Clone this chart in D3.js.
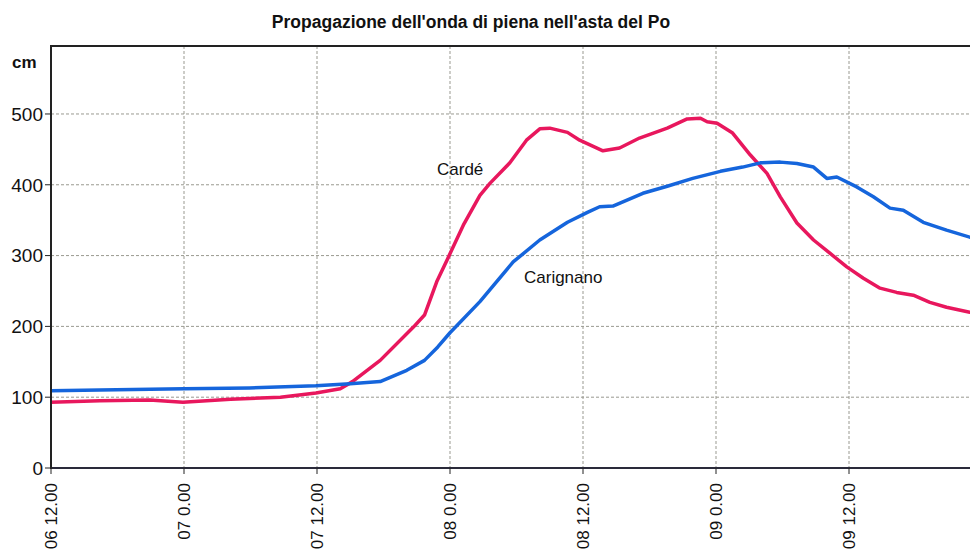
<!DOCTYPE html>
<html>
  <body style="margin:0;background:#fff">
    <style>
      svg { display: block; font-family: Arial, "Liberation Sans", sans-serif; }
    </style>
    <script src="https://d3js.org/d3.v7.min.js"></script>
    <script type="text/javascript">
      const width = 970;
      const height = 557;

      // hours since 06 12.00
      const tickHours = [0, 12, 24, 36, 48, 60, 72];
      const tickLabels = ['06 12.00', '07 0.00', '07 12.00', '08 0.00', '08 12.00', '09 0.00', '09 12.00'];
      const yTicks = [0, 100, 200, 300, 400, 500];

      const cardeHours = [0, 4.4, 8.9, 11.9, 16.2, 20.7, 23.9, 26.1, 27.2, 29.7, 32.7, 33.7, 34.8, 35.8, 37.2, 38.7, 39.6, 41.4, 42.9, 44.1, 45.0, 46.6, 47.7, 49.8, 51.3, 53.1, 55.6, 57.4, 58.6, 59.2, 60.1, 61.5, 63.1, 64.6, 65.8, 67.3, 68.8, 70.3, 71.8, 73.3, 74.8, 76.3, 77.8, 79.3, 80.8, 82.9, 84];
      const cardeValues = [93, 95, 96, 93, 97, 100, 106, 112, 122, 152, 199, 216, 263, 296, 343, 385, 402, 431, 463, 479, 480, 474, 463, 448, 452, 466, 480, 493, 494, 489, 487, 473, 442, 416, 383, 346, 322, 303, 284, 268, 254, 248, 244, 234, 227, 220, 217];

      const carignanoHours = [0, 4.4, 12, 17.9, 23.9, 27, 29.7, 32.1, 33.7, 34.9, 36.0, 38.7, 41.7, 44.1, 46.6, 48.4, 49.5, 50.7, 53.4, 55.6, 57.9, 60.4, 62.4, 64.0, 65.8, 67.3, 68.8, 70.0, 70.9, 72.7, 74.2, 75.7, 76.9, 78.7, 80.8, 82.9, 84];
      const carignanoValues = [109, 110, 112, 113, 116, 119, 122, 138, 152, 171, 191, 235, 291, 322, 347, 361, 369, 370, 388, 398, 409, 419, 425, 431, 432, 430, 425, 409, 411, 397, 383, 367, 364, 347, 336, 326, 322];

      const x = d3.scaleLinear().domain([0, 72]).range([51, 849]);
      const y = d3.scaleLinear().domain([0, 596]).range([468, 46]);

      const svg = d3.select('body')
        .append('svg')
        .attr('width', width)
        .attr('height', height);

      svg.append('text')
        .attr('x', 471)
        .attr('y', 28)
        .attr('text-anchor', 'middle')
        .attr('font-size', 17.5)
        .attr('font-weight', 'bold')
        .attr('fill', '#111')
        .text("Propagazione dell'onda di piena nell'asta del Po");

      // grid
      svg.append('g')
        .selectAll('line')
        .data(yTicks.filter((d) => d > 0))
        .enter()
        .append('line')
        .attr('x1', x(0))
        .attr('x2', width)
        .attr('y1', (d) => y(d))
        .attr('y2', (d) => y(d))
        .attr('stroke', '#999990')
        .attr('stroke-dasharray', '3,2');

      svg.append('g')
        .selectAll('line')
        .data(tickHours.filter((d) => d > 0))
        .enter()
        .append('line')
        .attr('x1', (d) => x(d))
        .attr('x2', (d) => x(d))
        .attr('y1', y(596))
        .attr('y2', y(0))
        .attr('stroke', '#999990')
        .attr('stroke-dasharray', '3,2');

      // lines
      svg.append('clipPath')
        .attr('id', 'plot')
        .append('rect')
        .attr('x', x(0))
        .attr('y', y(596))
        .attr('width', width - x(0))
        .attr('height', y(0) - y(596));

      const line = d3.line()
        .x((d) => x(d[0]))
        .y((d) => y(d[1]));

      const series = [
        { hours: cardeHours, values: cardeValues, color: '#e8175d' },
        { hours: carignanoHours, values: carignanoValues, color: '#1565dc' },
      ];

      svg.append('g')
        .attr('clip-path', 'url(#plot)')
        .selectAll('path')
        .data(series)
        .enter()
        .append('path')
        .attr('d', (s) => line(s.hours.map((h, i) => [h, s.values[i]])))
        .attr('fill', 'none')
        .attr('stroke', (s) => s.color)
        .attr('stroke-width', 3.5)
        .attr('stroke-linejoin', 'round');

      // axes frame
      svg.append('line')
        .attr('x1', x(0)).attr('x2', width)
        .attr('y1', y(596)).attr('y2', y(596))
        .attr('stroke', '#222').attr('stroke-width', 2);
      svg.append('line')
        .attr('x1', x(0)).attr('x2', width)
        .attr('y1', y(0)).attr('y2', y(0))
        .attr('stroke', '#2a2a3a').attr('stroke-width', 2);
      svg.append('line')
        .attr('x1', x(0)).attr('x2', x(0))
        .attr('y1', y(596) - 1).attr('y2', y(0) + 1)
        .attr('stroke', '#222').attr('stroke-width', 2);

      // y ticks
      const yAxis = svg.append('g');
      yAxis.selectAll('line')
        .data(yTicks)
        .enter()
        .append('line')
        .attr('x1', x(0) - 6)
        .attr('x2', x(0))
        .attr('y1', (d) => y(d))
        .attr('y2', (d) => y(d))
        .attr('stroke', '#222');
      yAxis.selectAll('text')
        .data(yTicks)
        .enter()
        .append('text')
        .attr('x', 43)
        .attr('y', (d) => y(d))
        .attr('dy', '0.36em')
        .attr('text-anchor', 'end')
        .attr('font-size', 19)
        .attr('fill', '#111')
        .text((d) => d);

      svg.append('text')
        .attr('x', 12)
        .attr('y', 68)
        .attr('font-size', 17)
        .attr('font-weight', 'bold')
        .attr('fill', '#111')
        .text('cm');

      // x ticks
      const xAxis = svg.append('g');
      xAxis.selectAll('line')
        .data(tickHours)
        .enter()
        .append('line')
        .attr('x1', (d) => x(d))
        .attr('x2', (d) => x(d))
        .attr('y1', y(0))
        .attr('y2', y(0) + 6)
        .attr('stroke', '#222');
      xAxis.selectAll('text')
        .data(tickHours)
        .enter()
        .append('text')
        .attr('transform', (d) => `translate(${x(d)},483) rotate(-90)`)
        .attr('dy', '0.35em')
        .attr('text-anchor', 'end')
        .attr('font-size', 17)
        .attr('fill', '#111')
        .text((d, i) => tickLabels[i]);

      // series labels
      svg.append('text')
        .attr('x', 437).attr('y', 175)
        .attr('font-size', 17)
        .attr('fill', '#111')
        .text('Cardé');
      svg.append('text')
        .attr('x', 524).attr('y', 283)
        .attr('font-size', 17)
        .attr('fill', '#111')
        .text('Carignano');
    </script>
  </body>
</html>
